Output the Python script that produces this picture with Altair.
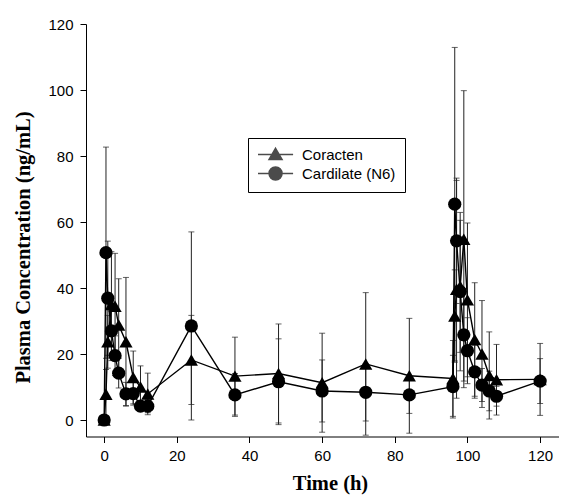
import altair as alt
import pandas as pd

# ---- data ----
times = [0, 0.5, 1, 2, 3, 4, 6, 8, 10, 12, 24, 36, 48, 60, 72, 84,
         96, 96.5, 97, 98, 99, 100, 102, 104, 106, 108, 120]

coracten_mean = [0, 7.8, 23.7, 35.0, 34.5, 28.8, 23.7, 12.9, 10.0, 7.9, 18.2, 13.3, 14.1, 11.3, 17.0, 13.4,
                 12.6, 31.5, 39.6, 40.5, 54.8, 36.4, 24.4, 20.0, 13.5, 12.2, 12.3]
coracten_sd = [0, 7.5, 8.0, 16.0, 16.0, 14.0, 19.5, 8.0, 6.4, 6.3, 13.5, 11.8, 15.0, 15.0, 21.6, 17.4,
               11.5, 14.0, 33.0, 20.0, 45.0, 23.3, 17.2, 16.2, 13.2, 10.7, 10.9]

cardilate_mean = [0, 50.7, 36.9, 27.0, 19.5, 14.2, 7.9, 8.0, 4.2, 4.2, 28.5, 7.6, 11.6, 8.8, 8.4, 7.6,
                  10.1, 65.4, 54.3, 38.9, 25.8, 21.0, 14.6, 10.6, 8.8, 7.2, 11.8]
cardilate_sd = [0, 32.0, 17.3, 9.0, 6.0, 4.5, 3.5, 3.5, 1.5, 2.0, 28.5, 6.5, 13.0, 9.4, 8.7, 5.6,
                9.5, 47.5, 19.0, 24.0, 14.0, 10.0, 8.0, 5.0, 6.0, 3.0, 6.8]

series_names = ["Coracten", "Cardilate (N6)"]
x_ticks = [0, 20, 40, 60, 80, 100, 120]
y_ticks = [0, 20, 40, 60, 80, 100, 120]

rows = []
for name, means, sds in [(series_names[0], coracten_mean, coracten_sd),
                         (series_names[1], cardilate_mean, cardilate_sd)]:
    for t, m, s in zip(times, means, sds):
        rows.append({"time": t, "conc": m, "lo": m - s, "hi": m + s, "sd": s, "series": name})
df = pd.DataFrame(rows)

xs = alt.Scale(domain=[-5, 125.2], nice=False, zero=False)
ys = alt.Scale(domain=[-5, 120], nice=False, zero=False)

x_axis = alt.Axis(values=x_ticks, title="Time (h)", titleX=244, titleY=53,
                  titleBaseline="alphabetic", labelPadding=6)
y_axis = alt.Axis(values=y_ticks, title="Plasma Concentration (ng/mL)", titleX=-57, titleY=223,
                  titleAngle=270, titleBaseline="alphabetic", labelPadding=7)

base = alt.Chart(df)
err = base.transform_filter("datum.sd > 0")

rules = err.mark_rule(color="#222", strokeWidth=1).encode(
    x=alt.X("time:Q", scale=xs, axis=x_axis),
    y=alt.Y("lo:Q", scale=ys, axis=y_axis),
    y2="hi:Q",
)
cap_lo = err.mark_tick(orient="horizontal", color="#222", size=6, thickness=1).encode(
    x="time:Q", y="lo:Q")
cap_hi = err.mark_tick(orient="horizontal", color="#222", size=6, thickness=1).encode(
    x="time:Q", y="hi:Q")

lines = base.mark_line(color="black", strokeWidth=1.4).encode(
    x="time:Q", y="conc:Q", detail="series:N", order="time:Q")

points = base.mark_point(filled=True, color="black", opacity=1, size=175).encode(
    x="time:Q", y="conc:Q",
    shape=alt.Shape("series:N", scale=alt.Scale(domain=series_names, range=["triangle-up", "circle"]),
                    legend=None))

tri_path = "M-1,0L4.4,0M1.7,-0.95L2.7,0.75L0.7,0.75Z"
circ_path = "M-1,0L4.4,0M2.7,0A1,1,0,1,1,0.7,0A1,1,0,1,1,2.7,0Z"

legend_layer = base.transform_filter("false").mark_point(
    filled=True, fill="black", stroke="black", strokeWidth=1.3, size=169).encode(
    x="time:Q", y="conc:Q",
    shape=alt.Shape("series:N",
                    scale=alt.Scale(domain=series_names, range=[tri_path, circ_path]),
                    legend=alt.Legend(title=None, orient="none", legendX=162, legendY=114,
                                      padding=9, strokeColor="black", direction="vertical",
                                      labelFont="Liberation Sans", labelFontSize=15,
                                      labelColor="black", labelOffset=30, symbolSize=169,
                                      rowPadding=1, labelLimit=300)))

chart = alt.layer(rules, cap_lo, cap_hi, lines, points, legend_layer).resolve_scale(
    shape="independent"
).properties(
    width=473, height=412.5,
    autosize=alt.AutoSizeParams(type="none"),
    padding={"left": 78, "top": 16, "right": 0, "bottom": 58},
).configure_view(stroke=None).configure_axis(
    grid=False, domainColor="black", domainWidth=1, tickColor="black", tickWidth=1, tickSize=6,
    labelFont="Liberation Sans", labelFontSize=15, labelColor="black",
    titleFont="Liberation Serif", titleFontWeight="bold", titleFontSize=20.5, titleColor="black",
)

chart.save("out.html", embed_options={"renderer": "svg", "actions": False})
